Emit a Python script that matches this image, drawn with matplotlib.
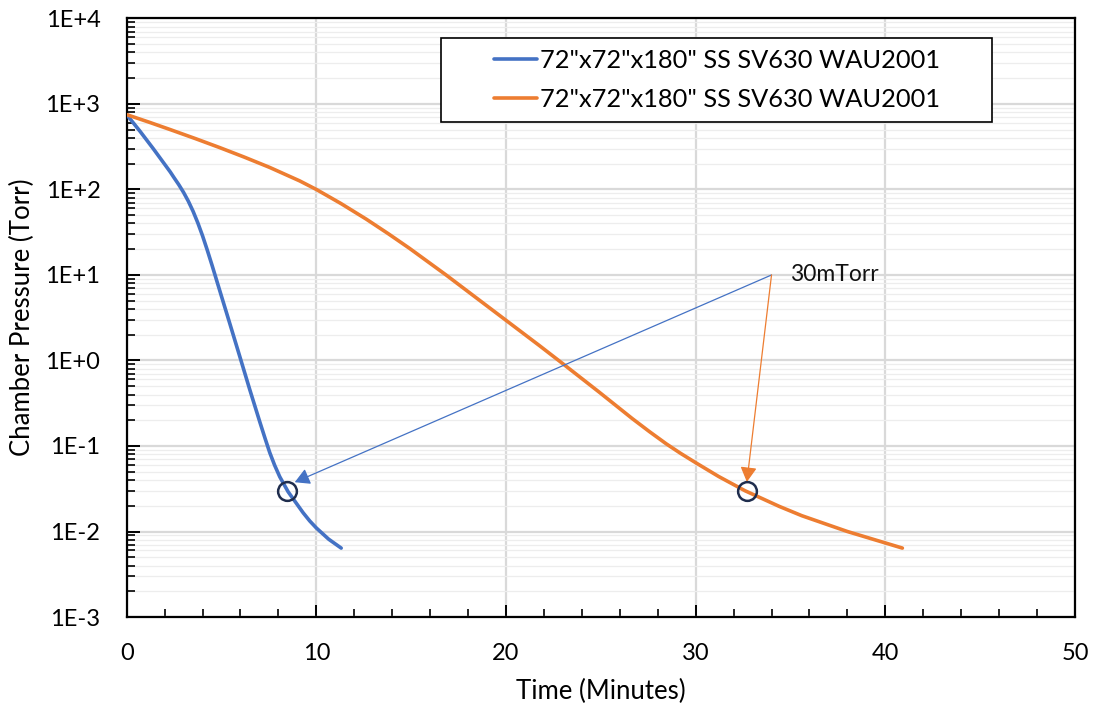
import matplotlib
matplotlib.use("Agg")
import matplotlib.pyplot as plt
from matplotlib.ticker import FuncFormatter, LogLocator, MultipleLocator, NullFormatter
from matplotlib.legend_handler import HandlerLine2D
from matplotlib.patches import Rectangle
import numpy as np

plt.rcParams['font.family'] = ['Lato', 'DejaVu Sans']

# Data
blue_t = [0, 0.7, 1.4, 2.3, 2.5, 2.75, 3.0, 3.25, 3.5, 3.75, 4.0, 4.25, 4.5, 4.91, 5.44, 5.96, 6.49,
          7.02, 7.3, 7.54, 7.8, 8.07, 8.51, 9.3, 9.65, 10.0, 10.65, 11.31]
blue_p = [750, 480, 300, 160, 137, 113.5, 92.3, 72.9, 55.6, 40.7, 28.7, 19.5, 13.0, 6.53, 2.69, 1.12, 0.456,
          0.191, 0.122, 0.0841, 0.0596, 0.0437, 0.0292, 0.0166, 0.0133, 0.011, 0.00813, 0.0064]

orange_t = [0, 1.2, 2.3, 3.6, 4.9, 6.2, 7.54, 9.12, 10.0, 11.3, 12.63, 13.8, 14.91, 16.84, 18.42, 20.0,
            21.75, 22.98, 24.91, 26.66, 27.55, 28.45, 29.2, 30.0, 31.22, 32.6, 34.4, 35.6, 38.0, 40.9]
orange_p = [750, 610, 501, 395, 309, 239, 181, 126, 100, 68.4, 45.0, 30.3, 20.5, 10.0, 5.43, 2.95,
            1.50, 0.923, 0.427, 0.209, 0.148, 0.106, 0.0822, 0.0638, 0.0439, 0.030, 0.0197, 0.0153, 0.010, 0.0064]

series_label = '72"x72"x180" SS SV630 WAU2001'
annot_text = "30mTorr"
annot_xy = (34.0, 10.0)
marked_points_t = [8.45, 32.7]
marked_points_p = [0.030, 0.030]
arrow_tips_t = [8.86, 32.7]
arrow_tips_p = [0.0377, 0.038]

blue = "#4472C4"
orange = "#ED7D31"


class FullLineHandler(HandlerLine2D):
    def get_xdata(self, legend, xdescent, ydescent, width, height, fontsize):
        x0 = -xdescent
        x1 = -xdescent + width
        return np.array([x0, x1]), np.array([(x0 + x1) / 2])


fig = plt.figure(figsize=(10.95, 7.12), dpi=100)
ax = fig.add_axes([0.1157, 0.1334, 0.8660, 0.8407])

ax.set_yscale("log")
ax.set_xlim(0, 50)
ax.set_ylim(1e-3, 1e4)

l1, = ax.plot(blue_t, blue_p, color=blue, lw=2.6, label=series_label, solid_capstyle="round",
              solid_joinstyle="round", zorder=3)
l2, = ax.plot(orange_t, orange_p, color=orange, lw=2.6, label=series_label, solid_capstyle="round",
              solid_joinstyle="round", zorder=3)

# circles
ax.plot(marked_points_t, marked_points_p, linestyle="none", marker="o", ms=13.5,
        mfc="none", mec="#1F2D4D", mew=1.8, zorder=5)

# annotation arrows
for tt, pp, col in zip(arrow_tips_t, arrow_tips_p, [blue, orange]):
    ax.annotate("", xy=(tt, pp), xytext=annot_xy,
                arrowprops=dict(arrowstyle="-|>,head_length=0.45,head_width=0.25", color=col, lw=0.9,
                                shrinkA=0, shrinkB=0, mutation_scale=20), zorder=4)
ax.text(annot_xy[0] + 0.95, annot_xy[1], annot_text, fontsize=16.5, va="center", ha="left", color="#111111")

# ticks
ax.xaxis.set_major_locator(MultipleLocator(10))
ax.xaxis.set_minor_locator(MultipleLocator(2))
ax.yaxis.set_major_locator(LogLocator(base=10, numticks=20))
ax.yaxis.set_minor_locator(LogLocator(base=10, subs=np.arange(2, 10), numticks=100))
ax.yaxis.set_minor_formatter(NullFormatter())
ax.yaxis.set_major_formatter(FuncFormatter(lambda v, p: "1E{:+d}".format(int(round(np.log10(v))))))

ax.tick_params(axis="both", which="major", direction="in", length=9, width=1.4, labelsize=17, colors="black")
ax.tick_params(axis="both", which="minor", direction="in", length=6, width=1.2)
ax.tick_params(axis="y", which="major", pad=19)
ax.tick_params(axis="x", which="major", pad=19)

ax.grid(True, which="major", axis="both", color="#D9D9D9", lw=1.6, zorder=0)
ax.grid(True, which="minor", axis="y", color="#EDEDED", lw=0.9, zorder=0)
ax.set_axisbelow(True)

for s in ax.spines.values():
    s.set_linewidth(1.6)
    s.set_color("black")

ax.set_xlabel("Time (Minutes)", fontsize=18.5)
ax.set_ylabel("Chamber Pressure (Torr)", fontsize=18.5)
ax.xaxis.set_label_coords(0.5, -0.103)
ax.yaxis.set_label_coords(-0.097, 0.5)

# legend box
rect = Rectangle((0.331, 0.827), 0.582, 0.1403, transform=ax.transAxes, facecolor="white",
                 edgecolor="black", lw=1.2, zorder=6, clip_on=False)
ax.add_patch(rect)
leg = ax.legend(handles=[l1, l2], loc="center", bbox_to_anchor=(0.6225, 0.897), fontsize=18.3,
                frameon=False, handlelength=1.7, handletextpad=0.12, borderpad=0.0,
                labelspacing=0.65, borderaxespad=0,
                handler_map={l1: FullLineHandler(), l2: FullLineHandler()})
leg.set_zorder(7)

fig.savefig("out.png", dpi=100)
